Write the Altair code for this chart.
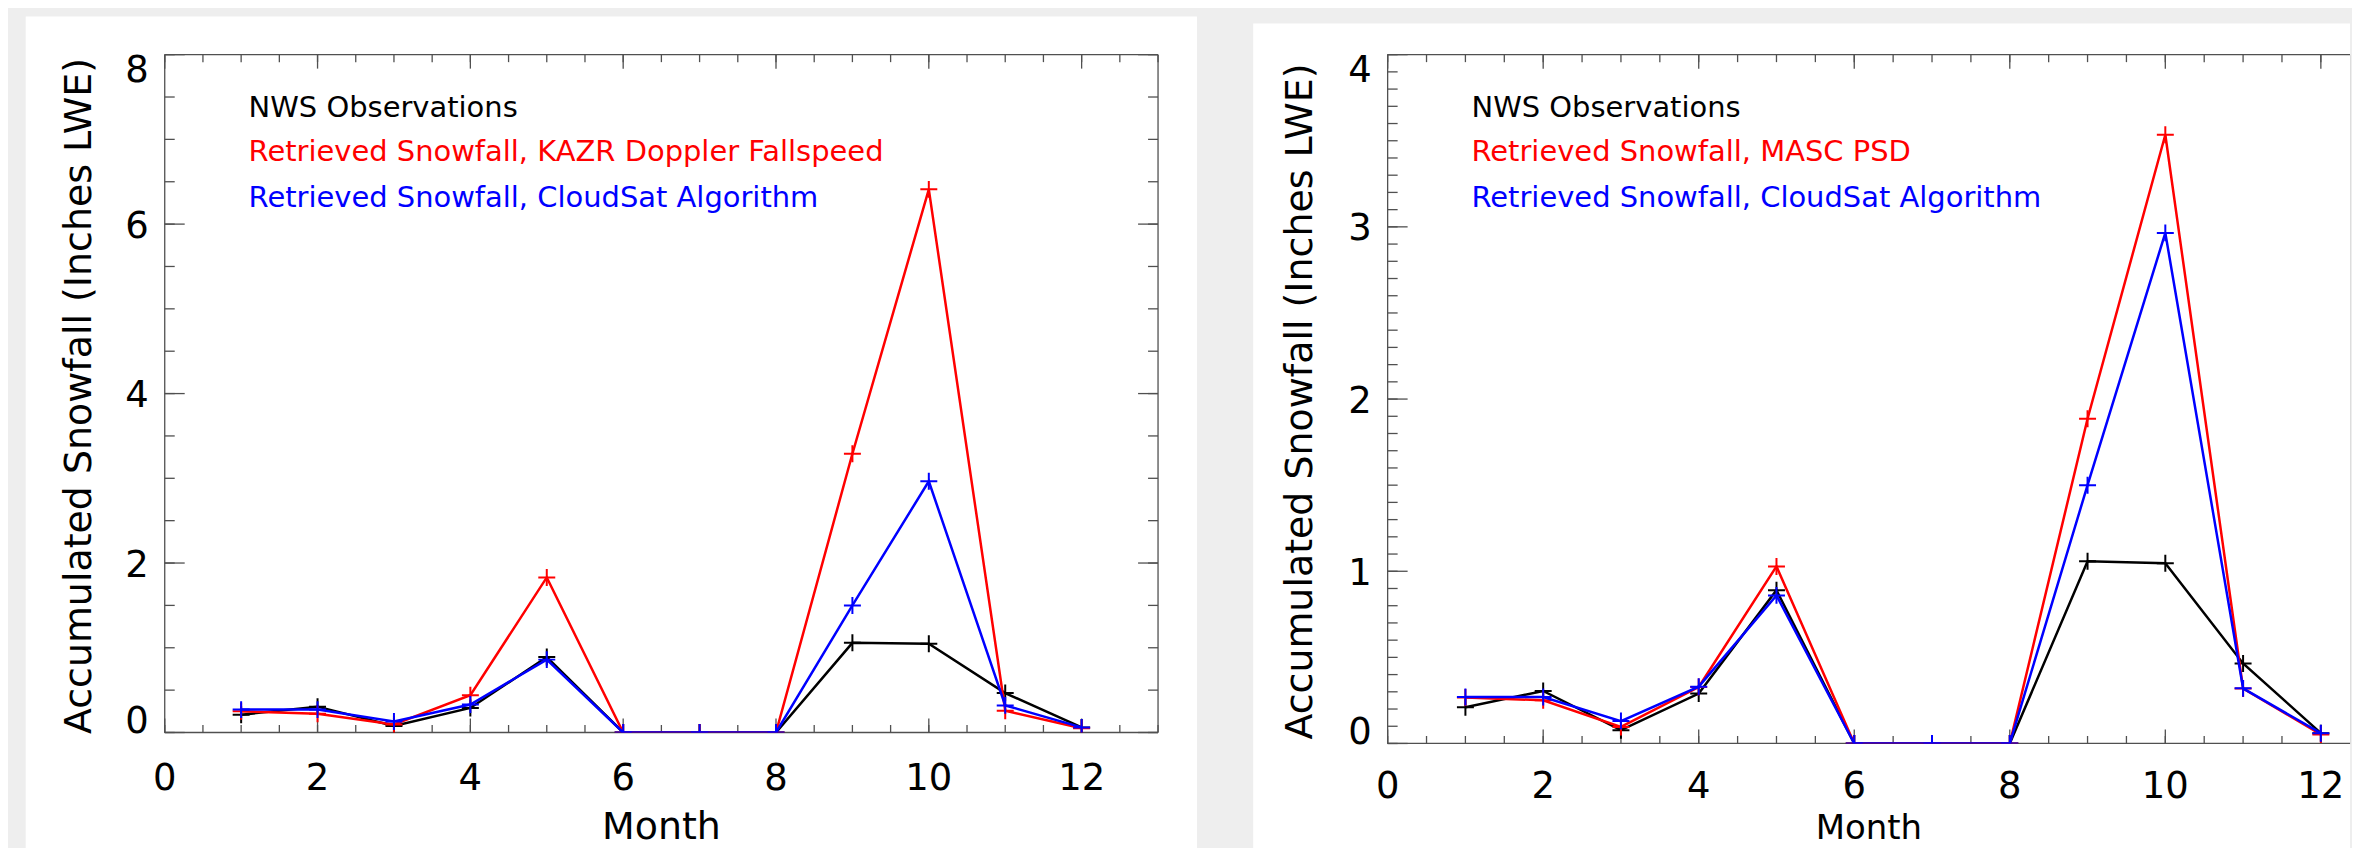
import altair as alt
import pandas as pd
import numpy as np

# ---------------- data ----------------
months = list(range(1, 13))
nws_obs = [0.21, 0.305, 0.077, 0.29, 0.89, 0, 0, 0, 1.058, 1.047, 0.465, 0.06]
cloudsat_alg = [0.27, 0.27, 0.13, 0.33, 0.86, 0, 0, 0, 1.50, 2.965, 0.32, 0.06]
kazr_doppler = [0.25, 0.22, 0.095, 0.44, 1.83, 0, 0, 0, 3.29, 6.41, 0.256, 0.05]
masc_psd = [0.267, 0.251, 0.096, 0.328, 1.028, 0, 0, 0, 1.886, 3.535, 0.319, 0.052]

legend_left = ["NWS Observations",
               "Retrieved Snowfall, KAZR Doppler Fallspeed",
               "Retrieved Snowfall, CloudSat Algorithm"]
legend_right = ["NWS Observations",
                "Retrieved Snowfall, MASC PSD",
                "Retrieved Snowfall, CloudSat Algorithm"]
series_colors = ["#000000", "#ff0000", "#0000ff"]

x_title = "Month"
y_title = "Accumulated Snowfall (Inches LWE)"
x_labels = [0, 2, 4, 6, 8, 10, 12]
x_major_ticks = [0, 2, 4, 6, 8, 10, 12]
x_minor_ticks = [float(v) for v in np.arange(0, 13.01, 0.5)]
left_y_labels = [0, 2, 4, 6, 8]
left_y_minor = [float(v) for v in np.arange(0, 8.01, 0.5)]
right_y_labels = [0, 1, 2, 3, 4]
right_y_minor = [round(float(v), 2) for v in np.arange(0, 4.001, 0.1)]

FONT = "DejaVu Sans"
TICK_COLOR = "#505050"
one = pd.DataFrame({"k": [0]})


def box(color, x1, x2, y1, y2):
    return alt.Chart(one).mark_rect(color=color).encode(
        x=alt.value(x1), x2=alt.value(x2), y=alt.value(y1), y2=alt.value(y2))


def hline(y, x1, x2):
    return alt.Chart(one).mark_rule(color=TICK_COLOR, strokeWidth=1.3).encode(
        x=alt.value(x1), x2=alt.value(x2), y=alt.value(y))


def vline(x, y1, y2):
    return alt.Chart(one).mark_rule(color=TICK_COLOR, strokeWidth=1.3).encode(
        x=alt.value(x), y=alt.value(y1), y2=alt.value(y2))


def make_panel(red_vals, legend_texts, x_max, y_max, y_labels, y_minor, W, H,
               gray_box, white_box, title_x, xlab_y, month_y, month_size,
               right_frame):
    xs = alt.Scale(domain=[0, x_max], nice=False, zero=False)
    ys = alt.Scale(domain=[0, y_max], nice=False, zero=False)
    layers = [box("#eeeeee", *gray_box), box("#ffffff", *white_box)]

    # frame
    layers += [vline(0, 0, H), hline(0, 0, W), hline(H, 0, W)]
    if right_frame:
        layers.append(vline(W, 0, H))

    def ticks(vals, ch, a, b):
        vals = [v for v in vals if v <= (x_max if ch == "x" else y_max)]
        d = pd.DataFrame({"t": vals})
        m = alt.Chart(d).mark_rule(color=TICK_COLOR, strokeWidth=1.3)
        if ch == "x":
            return m.encode(x=alt.X("t:Q", scale=xs, axis=None),
                            y=alt.value(a), y2=alt.value(b))
        return m.encode(y=alt.Y("t:Q", scale=ys, axis=None),
                        x=alt.value(a), x2=alt.value(b))

    layers += [
        ticks(x_minor_ticks, "x", H, H - 7.5),
        ticks(x_major_ticks, "x", H, H - 14),
        ticks(x_minor_ticks, "x", 0, 7.5),
        ticks(x_major_ticks, "x", 0, 14),
        ticks(y_minor, "y", 0, 10),
        ticks(y_labels, "y", 0, 20),
    ]
    if right_frame:
        layers += [ticks(y_minor, "y", W - 10, W),
                   ticks(y_labels, "y", W - 20, W)]

    # tick labels (x)
    xl = pd.DataFrame({"v": [v for v in x_labels if v <= x_max]})
    layers.append(alt.Chart(xl).mark_text(
        font=FONT, fontSize=37, color="black", align="center",
        baseline="alphabetic").encode(
        x=alt.X("v:Q", scale=xs, axis=None), y=alt.value(H + xlab_y),
        text=alt.Text("v:Q", format="d")))
    # tick labels (y): bottom / middle / top (flush at the frame)
    groups = [([y_labels[0]], 0.8), (y_labels[1:-1], 13.5), ([y_labels[-1]], 27.5)]
    for vals, dy in groups:
        yl = pd.DataFrame({"v": vals})
        layers.append(alt.Chart(yl).mark_text(
            font=FONT, fontSize=37, color="black", align="right",
            baseline="alphabetic", dy=dy).encode(
            y=alt.Y("v:Q", scale=ys, axis=None), x=alt.value(-16),
            text=alt.Text("v:Q", format="d")))
    # axis titles
    layers.append(alt.Chart(pd.DataFrame({"t": [x_title]})).mark_text(
        font=FONT, fontSize=month_size, color="black", align="center",
        baseline="alphabetic").encode(
        text="t:N", x=alt.value(W / 2), y=alt.value(H + month_y)))
    layers.append(alt.Chart(pd.DataFrame({"t": [y_title]})).mark_text(
        font=FONT, fontSize=38, color="black", align="center",
        baseline="alphabetic", angle=270).encode(
        text="t:N", x=alt.value(title_x), y=alt.value(H / 2 + 2.5)))

    series = [nws_obs, red_vals, cloudsat_alg]
    for vals, col in zip(series, series_colors):
        d = pd.DataFrame({"month": months, "value": vals})
        layers.append(alt.Chart(d).mark_line(
            color=col, strokeWidth=2.5, clip=True).encode(
            x=alt.X("month:Q", scale=xs, axis=None),
            y=alt.Y("value:Q", scale=ys, axis=None)))
        layers.append(alt.Chart(d).mark_point(
            shape="M-1,0L1,0M0,-1L0,1", size=289, filled=False,
            strokeWidth=2, color=col, opacity=1, clip=True).encode(
            x=alt.X("month:Q", scale=xs, axis=None),
            y=alt.Y("value:Q", scale=ys, axis=None)))

    for txt, col, yb in zip(legend_texts, series_colors, [62, 106.5, 152.5]):
        layers.append(alt.Chart(pd.DataFrame({"label": [txt]})).mark_text(
            align="left", baseline="alphabetic", font=FONT, fontSize=29,
            color=col).encode(text="label:N", x=alt.value(84), y=alt.value(yb)))

    return alt.layer(*layers).properties(width=W, height=H)


left = make_panel(kazr_doppler, legend_left, 13, 8, left_y_labels, left_y_minor,
                  995, 679,
                  (-156.3, 1061.2, -44.3, 807.7),
                  (-139.3, 1034, -38.3, 807.7), -74, 58, 107, 38, True)
right = make_panel(masc_psd, legend_right, 964 / 77.9, 4, right_y_labels,
                   right_y_minor, 964, 690,
                   (-162.2, 964, -45.3, 806.7),
                   (-134.7, 964, -31.3, 806.7), -76, 55, 96, 34, False)

chart = alt.hconcat(left, right, spacing=0).properties(
    padding=0, background="#eeeeee"
).configure_view(strokeWidth=0, stroke=None).configure(font=FONT)

chart.save("out.html", embed_options={"renderer": "svg", "actions": False})
